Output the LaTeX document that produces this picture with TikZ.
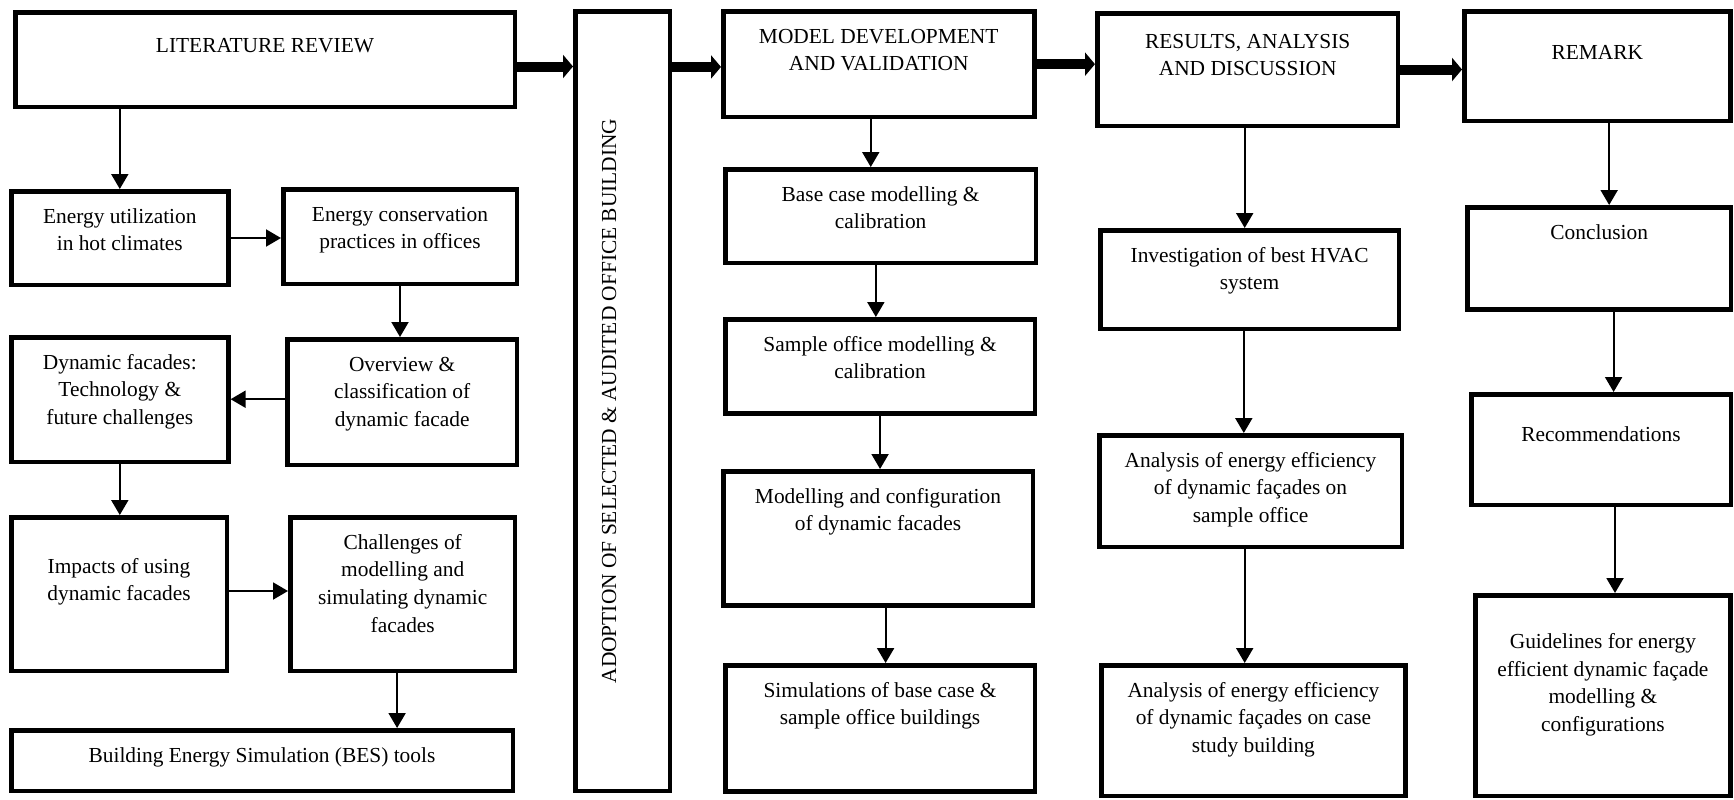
\documentclass[tikz,border=0pt]{standalone}
\usepackage{fontspec}
\setmainfont{Liberation Serif}
\usetikzlibrary{arrows.meta}
\newcommand{\ml}[1]{\begin{tabular}[t]{@{}c@{}}#1\end{tabular}}

\begin{document}
\begin{tikzpicture}[x=0.5pt, y=-0.5pt,
    font=\fontsize{10.7}{13.9}\selectfont,
    >={Triangle[length=7.5pt,width=8.5pt]},
    box/.style={draw, line width=2.25pt, anchor=north west, inner xsep=2pt, inner ysep=0pt, text height=15.9pt},
    boxsize/.style 2 args={minimum width=#1, text depth=#2},
    link/.style={line width=1pt, ->},
    bigarr/.style={line width=5pt, -{Triangle[length=5pt,width=11.5pt]}}]
    \useasboundingbox (0,0) rectangle (1734,799);

    \node[box, boxsize={249.75pt}{27.35pt}, text height=19.9pt] (lr) at (13,10) {LITERATURE REVIEW};
    \node[box, boxsize={108.55pt}{30.85pt}] (util) at (9,189) {\ml{Energy utilization\\in hot climates}};
    \node[box, boxsize={116.75pt}{31.35pt}] (cons) at (281,187) {\ml{Energy conservation\\practices in offices}};
    \node[box, boxsize={108.55pt}{46.35pt}] (dyn) at (9,335) {\ml{Dynamic facades:\\Technology \&\\future challenges}};
    \node[box, boxsize={114.95pt}{46.85pt}] (over) at (285,337) {\ml{Overview \&\\classification of\\dynamic facade}};
    \node[box, boxsize={107.75pt}{48.85pt}, text height=27.9pt] (imp) at (9,515) {\ml{Impacts of using\\dynamic facades}};
    \node[box, boxsize={112.45pt}{60.85pt}] (chal) at (288,515) {\ml{Challenges of\\modelling and\\simulating dynamic\\facades}};
    \node[box, boxsize={250.75pt}{14.35pt}] (bes) at (9,728) {Building Energy Simulation (BES) tools};
    \node[box, boxsize={389.75pt}{26.85pt}, text height=20.4pt, anchor=center, rotate=90] (adopt) at (622.5,401) {ADOPTION OF SELECTED \& AUDITED OFFICE BUILDING};

    \node[box, boxsize={155.5pt}{37pt}] (model) at (721,9) {\ml{MODEL DEVELOPMENT\\AND VALIDATION}};
    \node[box, boxsize={155.4pt}{31.05pt}] (base) at (723,167) {\ml{Base case modelling \&\\calibration}};
    \node[box, boxsize={154.8pt}{31.2pt}] (samp) at (723,317) {\ml{Sample office modelling \&\\calibration}};
    \node[box, boxsize={154.75pt}{51.2pt}] (modf) at (721,469) {\ml{Modelling and configuration\\of dynamic facades}};
    \node[box, boxsize={154.8pt}{47.15pt}] (sim) at (723,663) {\ml{Simulations of base case \&\\sample office buildings}};

    \node[box, boxsize={150.45pt}{38.85pt}, text height=17.4pt] (res) at (1095,11) {\ml{RESULTS, ANALYSIS\\AND DISCUSSION}};
    \node[box, boxsize={149.35pt}{33.55pt}] (hvac) at (1098,228) {\ml{Investigation of best HVAC\\system}};
    \node[box, boxsize={151.25pt}{40pt}] (ana1) at (1097,433) {\ml{Analysis of energy efficiency\\of dynamic façades on\\sample office}};
    \node[box, boxsize={152.15pt}{49.5pt}] (ana2) at (1099,663) {\ml{Analysis of energy efficiency\\of dynamic façades on case\\study building}};

    \node[box, boxsize={133.1pt}{31pt}, text height=23.9pt] (rem) at (1462,9) {REMARK};
    \node[box, boxsize={131.95pt}{35.2pt}] (conc) at (1465,205) {Conclusion};
    \node[box, boxsize={129.75pt}{31.85pt}, text height=23.6pt] (recs) at (1469,392) {Recommendations};
    \node[box, boxsize={127.65pt}{73.9pt}, text height=26.5pt] (guide) at (1473,593) {\ml{Guidelines for energy\\efficient dynamic façade\\modelling \&\\configurations}};

    \draw[bigarr] ([yshift=-3.5pt]lr.east) -- ([yshift=-3.5pt]lr.east -| adopt.north);
    \draw[bigarr] ([yshift=-1.4pt]model.west -| adopt.south) -- ([yshift=-1.4pt]model.west);
    \draw[bigarr] (model.east) -- (model.east -| res.west);
    \draw[bigarr] (res.east) -- (res.east -| rem.west);

    \draw[link] (lr.south -| util.north) -- (util.north);
    \draw[link] (util.east) -- (util.east -| cons.west);
    \draw[link] (cons.south) -- (cons.south |- over.north);
    \draw[link] ([yshift=1.4pt]over.west) -- ([yshift=1.4pt]over.west -| dyn.east);
    \draw[link] (dyn.south) -- (dyn.south |- imp.north);
    \draw[link] ([yshift=1.5pt]imp.east) -- ([yshift=1.5pt]imp.east -| chal.west);
    \draw[link] ([xshift=-2.8pt]chal.south) -- ([xshift=-2.8pt]chal.south |- bes.north);
    \draw[link] ([xshift=-4pt]model.south) -- ([xshift=-4pt]model.south |- base.north);
    \draw[link] ([xshift=-2.4pt]base.south) -- ([xshift=-2.4pt]base.south |- samp.north);
    \draw[link] (samp.south) -- (samp.south |- modf.north);
    \draw[link] ([xshift=3.8pt]modf.south) -- ([xshift=3.8pt]modf.south |- sim.north);
    \draw[link] ([xshift=-1.5pt]res.south) -- ([xshift=-1.5pt]res.south |- hvac.north);
    \draw[link] ([xshift=-2.9pt]hvac.south) -- ([xshift=-2.9pt]hvac.south |- ana1.north);
    \draw[link] ([xshift=-2.9pt]ana1.south) -- ([xshift=-2.9pt]ana1.south |- ana2.north);
    \draw[link] ([xshift=5.9pt]rem.south) -- ([xshift=5.9pt]rem.south |- conc.north);
    \draw[link] ([xshift=7.2pt]conc.south) -- ([xshift=7.2pt]conc.south |- recs.north);
    \draw[link] ([xshift=7pt]recs.south) -- ([xshift=7pt]recs.south |- guide.north);
\end{tikzpicture}
\end{document}
